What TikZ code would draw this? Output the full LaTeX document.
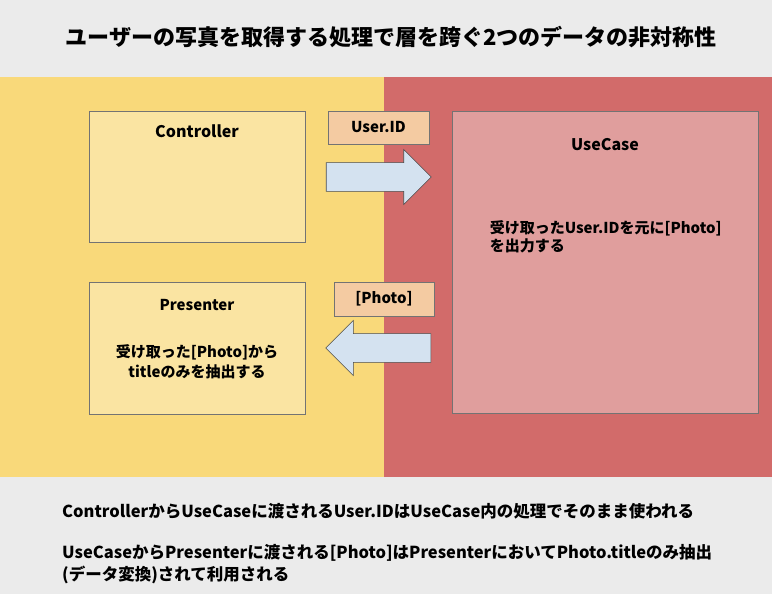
\documentclass[tikz,border=0pt]{standalone}
\usepackage{fontspec}
\setmainfont{Noto Sans CJK JP}
\usetikzlibrary{positioning, shapes.arrows}

\definecolor{bggray}{HTML}{EBEBEB}
\definecolor{layeryellow}{HTML}{F9D97A}
\definecolor{layerred}{HTML}{D26B6A}
\definecolor{boxyellow}{HTML}{FAE4A2}
\definecolor{boxred}{HTML}{E09E9D}
\definecolor{tagorange}{HTML}{F4CBA2}
\definecolor{arrowblue}{HTML}{D4E2F0}

\tikzset{
  box/.style={draw=black!55, line width=0.8pt, inner sep=0pt},
  ctrlbox/.style={box, fill=boxyellow, minimum width=216pt, minimum height=131pt},
  usecasebox/.style={box, fill=boxred, minimum width=306pt, minimum height=302pt},
  tag/.style={box, fill=tagorange, minimum width=101pt, minimum height=33pt,
    font=\fontsize{15}{18}\selectfont\bfseries},
  blockarrow/.style={single arrow, draw=black!70, line width=0.6pt, fill=arrowblue,
    inner xsep=0pt, inner ysep=14pt, minimum width=55pt, minimum height=105pt,
    single arrow head extend=13pt, single arrow head indent=0pt},
  boxtitle/.style={font=\fontsize{16}{19}\selectfont\bfseries},
  boxtext/.style={font=\fontsize{15}{20}\selectfont\bfseries, inner sep=0pt},
  note/.style={font=\fontsize{16.5}{22}\selectfont\bfseries, inner sep=0pt, align=left}
}

\begin{document}
\begin{tikzpicture}[x=1pt, y=-1pt]
  \fill[bggray] (0,0) rectangle (772,594);
  \useasboundingbox (0,0) rectangle (772,594);

  % layers
  \fill[layeryellow] (0,77) rectangle (384,477);
  \fill[layerred] (384,77) rectangle (772,477);

  \node[font=\fontsize{22}{26}\selectfont\bfseries] (title) at (391,37)
    {ユーザーの写真を取得する処理で層を跨ぐ2つのデータの非対称性};

  % boxes
  \node[ctrlbox] (ctrl) at (197,176.5) {};
  \node[ctrlbox, minimum height=132pt] (pres) at (197,348) {};
  \node[usecasebox] (uc) at (605,262) {};

  \node[boxtitle] (ctrltitle) at ([yshift=-21pt]ctrl.north) {Controller};
  \node[boxtitle, font=\fontsize{15}{18}\selectfont\bfseries] (prestitle)
    at ([yshift=-23pt]pres.north) {Presenter};
  \node[boxtitle] (uctitle) at ([yshift=-34pt]uc.north) {UseCase};

  \node[boxtext, align=center] (prestext) at ([yshift=-80pt]pres.north)
    {受け取った[Photo]から\\titleのみを抽出する};
  \node[boxtext, align=left, anchor=base west, font=\fontsize{15}{18}\selectfont\bfseries]
    (uctext) at ([xshift=38pt, yshift=-141pt]uc.north west)
    {受け取ったUser.IDを元に[Photo]\\を出力する};

  % data passed between layers
  \node[tag] (userid) at (378.5,127.5) {User.ID};
  \node[blockarrow] (toright) at (371.5,177) {};
  \node[tag, minimum width=100pt, minimum height=34pt] (photo) at (384,299) {[Photo]};
  \node[blockarrow, shape border rotate=180] (toleft) at (385.5,348) {};

  % notes
  \node[note, anchor=base west] (note1) at (62,517)
    {ControllerからUseCaseに渡されるUser.IDはUseCase内の処理でそのまま使われる};
  \node[note, anchor=base west] (note2) at (62,580)
    {UseCaseからPresenterに渡される[Photo]はPresenterにおいてPhoto.titleのみ抽出\\(データ変換)されて利用される};
\end{tikzpicture}
\end{document}
